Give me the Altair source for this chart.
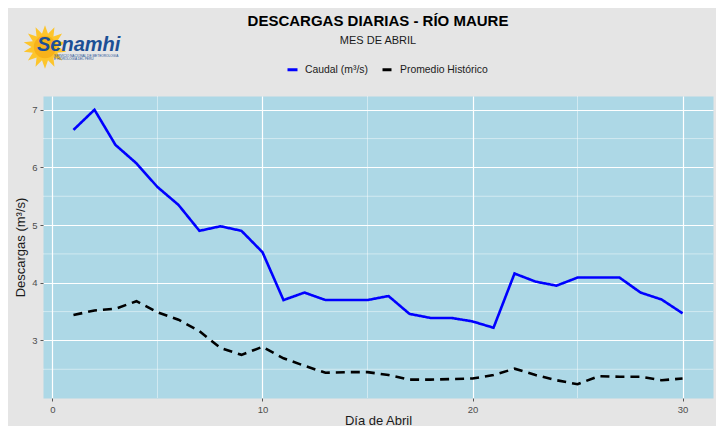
import altair as alt
import pandas as pd
import numpy as np

# ---- data ----
dias = list(range(1, 31))
caudal = [6.65, 7.00, 6.39, 6.07, 5.66, 5.35, 4.90, 4.98, 4.90, 4.53,
          3.70, 3.83, 3.70, 3.70, 3.70, 3.77, 3.46, 3.39, 3.39, 3.33,
          3.22, 4.16, 4.02, 3.95, 4.09, 4.09, 4.09, 3.83, 3.71, 3.47]
promedio = [3.44, 3.52, 3.55, 3.68, 3.49, 3.36, 3.16, 2.87, 2.75, 2.89,
            2.69, 2.56, 2.44, 2.45, 2.45, 2.40, 2.32, 2.32, 2.33, 2.34,
            2.40, 2.51, 2.40, 2.31, 2.24, 2.38, 2.37, 2.37, 2.31, 2.34]
series = ["Caudal (m³/s)", "Promedio Histórico"]
x_ticks = [0, 10, 20, 30]
x_minor = [5, 15, 25]
y_ticks = [3, 4, 5, 6, 7]
y_minor = [2.5, 3.5, 4.5, 5.5, 6.5]

FONT = "Liberation Sans"

df = pd.DataFrame({
    "dia": dias * 2,
    "valor": caudal + promedio,
    "serie": [series[0]] * len(dias) + [series[1]] * len(dias),
})

# ggplot-like 5% expansion
xmin, xmax = min(dias), max(dias)
ymin, ymax = min(caudal + promedio), max(caudal + promedio)
xpad = (xmax - xmin) * 0.05
ypad = (ymax - ymin) * 0.05
xscale = alt.Scale(domain=[xmin - xpad, xmax + xpad], nice=False, zero=False)
yscale = alt.Scale(domain=[ymin - ypad, ymax + ypad], nice=False, zero=False)

axis_common = dict(
    grid=True, gridColor="white", gridWidth=1.2, domain=False,
    ticks=True, tickColor="#333333", tickSize=3, tickWidth=0.8,
    labelColor="#4d4d4d", labelFontSize=9.5, labelFont=FONT, labelPadding=3,
    titleFont=FONT, titleFontSize=13, titleFontWeight="normal",
    titleColor="#1a1a1a", format="d",
)
AX = alt.Axis(values=x_ticks, title="Día de Abril", titlePadding=1, **axis_common)
AY = alt.Axis(values=y_ticks, title="Descargas (m³/s)", titlePadding=4, **axis_common)

minor_x = alt.Chart(pd.DataFrame({"v": x_minor})).mark_rule(
    color="white", strokeWidth=0.6, opacity=0.75
).encode(x=alt.X("v:Q", scale=xscale, axis=AX))

minor_y = alt.Chart(pd.DataFrame({"v": y_minor})).mark_rule(
    color="white", strokeWidth=0.6, opacity=0.75
).encode(y=alt.Y("v:Q", scale=yscale, axis=AY))

leg = alt.Legend(title=None, orient="none", direction="horizontal",
                 legendX=243, legendY=-33)
lines = alt.Chart(df).mark_line(strokeWidth=2.6).encode(
    x=alt.X("dia:Q", scale=xscale, axis=AX),
    y=alt.Y("valor:Q", scale=yscale, axis=AY),
    color=alt.Color("serie:N",
                    scale=alt.Scale(domain=series, range=["#0000ff", "#000000"]),
                    legend=leg),
    strokeDash=alt.StrokeDash("serie:N",
                              scale=alt.Scale(domain=series, range=[[1, 0], [9, 6]]),
                              legend=leg),
)

# ---- logo (decoration) ----
n = 14
pts = []
for i in range(2 * n):
    r = 1.0 if i % 2 == 0 else 0.62
    a = np.pi * i / n - np.pi / 2
    pts.append(f"{r*np.cos(a):.3f},{r*np.sin(a):.3f}")
sun_path = "M" + " L".join(pts) + " Z"

logo_df = pd.DataFrame({"t": ["Senamhi"]})
sun = alt.Chart(logo_df).mark_point(
    shape=sun_path, filled=True, color="#fdc52c", opacity=1, size=1900
).encode(x=alt.value(2), y=alt.value(-49))
sun_core = alt.Chart(logo_df).mark_point(
    shape="circle", filled=True, color="#f7b21b", opacity=1, size=500
).encode(x=alt.value(2), y=alt.value(-49))
logo_txt = alt.Chart(logo_df).mark_text(
    font=FONT, fontSize=20, fontWeight="bold", fontStyle="italic",
    color="#1c4f95", align="left", baseline="alphabetic"
).encode(x=alt.value(-6), y=alt.value(-45), text="t:N")
logo_small1 = alt.Chart(pd.DataFrame({"t": ["SERVICIO NACIONAL DE METEOROLOGÍA"]})).mark_text(
    font=FONT, fontSize=3.2, color="#1c4f95", align="left"
).encode(x=alt.value(11), y=alt.value(-40), text="t:N")
logo_small2 = alt.Chart(pd.DataFrame({"t": ["E HIDROLOGÍA DEL PERÚ"]})).mark_text(
    font=FONT, fontSize=3.2, color="#1c4f95", align="left"
).encode(x=alt.value(11), y=alt.value(-37.5), text="t:N")

chart = alt.layer(
    minor_x, minor_y, lines, sun, sun_core, logo_txt, logo_small1, logo_small2
).properties(
    width=670, height=302,
    title=alt.TitleParams(
        text="DESCARGAS DIARIAS - RÍO MAURE", subtitle="MES DE ABRIL",
        anchor="middle", frame="group", font=FONT, fontSize=15, fontWeight="bold",
        color="#000000", subtitleFont=FONT, subtitleFontSize=11,
        subtitleColor="#1a1a1a", subtitlePadding=6.3, offset=-21,
    ),
    autosize=alt.AutoSizeParams(type="none"),
    padding={"left": 35, "top": 88, "right": 3, "bottom": 30},
    background="#e5e5e5",
).configure_view(
    fill="#add8e6", stroke="transparent"
).configure_legend(
    symbolType="stroke", symbolStrokeWidth=3, symbolSize=100,
    labelFont=FONT, labelFontSize=10.4, labelColor="#1a1a1a",
    labelOffset=6, columnPadding=8, padding=0,
).configure_line(
    strokeCap="butt"
)

chart.save("out.html", embed_options={"renderer": "svg", "actions": False})
